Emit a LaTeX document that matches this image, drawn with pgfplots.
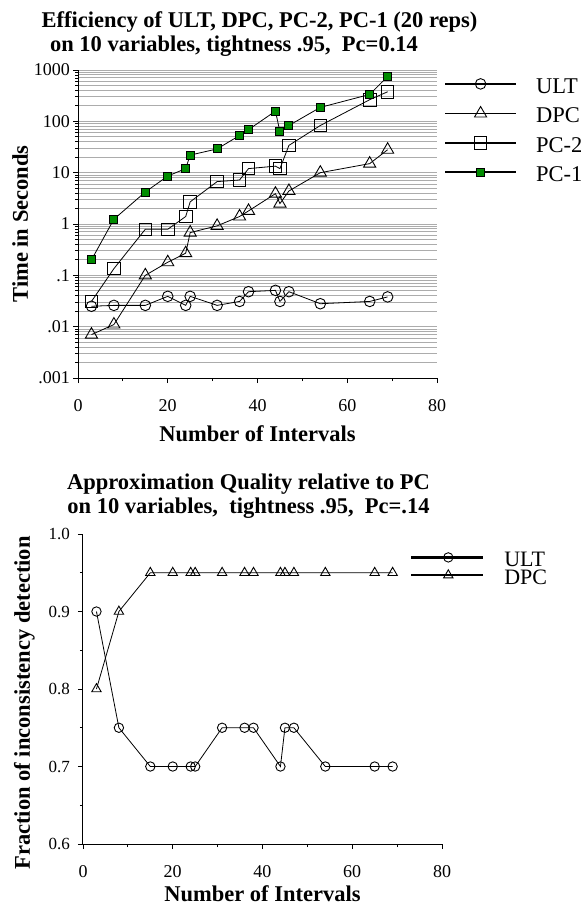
\documentclass[border=0pt]{standalone}
\usepackage{fontspec}
\setmainfont{Liberation Serif}
\usepackage{pgfplots}
\pgfplotsset{compat=1.18}
\definecolor{pcGreen}{HTML}{008C00}

\pgfplotsset{
  oldchart/.style={
    scale only axis,
    anchor=south west,
    width=359pt,
    axis lines*=left,
    axis line style={line width=1pt, -},
    tick align=outside,
    major tick length=5pt,
    minor tick length=3pt,
    tick style={black, line width=0.9pt},
    xmin=0, xmax=80,
    xtick={0,20,40,60,80},
    minor x tick num=1,
    /pgf/number format/assume math mode=true,
    tick label style={font=\fontsize{18}{18}\selectfont},
    xticklabel style={anchor=base, yshift=-28pt},
    yticklabel style={anchor=east, inner sep=0pt, xshift=-3pt},
    label style={font=\fontsize{22.5}{23}\selectfont\bfseries},
    title style={font=\fontsize{22.5}{23.5}\selectfont\bfseries, align=center},
    legend cell align=left,
    clip=false,
  },
  ser/.style={black, line width=0.8pt},
}

\begin{document}
\begin{tikzpicture}
\path[use as bounding box] (0pt,0pt) rectangle (582pt,-905pt);

% ---- efficiency chart
\begin{axis}[oldchart,
  at={(78pt,-378pt)},
  height=308pt,
  ymode=log,
  ymin=0.001, ymax=1000,
  ytick={0.001,0.01,0.1,1,10,100,1000},
  yticklabels={.001,.01,.1,1,10,100,1000},
  ymajorgrids, yminorgrids,
  major grid style={gray!65, line width=1pt},
  minor grid style={gray!65, line width=1pt},
  xlabel={Number of Intervals},
  xlabel style={at={(axis description cs:0.5,0)}, anchor=base, yshift=-63pt},
  ylabel={Time in Seconds},
  ylabel style={at={(axis description cs:0,0.5)}, anchor=base, yshift=50pt},
  title={Efficiency of ULT, DPC, PC-2, PC-1 (20 reps)\\on 10 variables, tightness .95,\ \ Pc=0.14\hspace*{51pt}},
  title style={at={(axis description cs:0.5,1)}, anchor=base, yshift=13pt, xshift=2pt},
  legend style={at={(axis description cs:1,1)}, anchor=north west, xshift=4pt, yshift=-5pt,
    draw=none, fill=none, font=\fontsize{22.5}{23}\selectfont,
    nodes={inner sep=0pt, text height=16pt, text depth=4pt},
    row sep=9.3pt, /tikz/every even column/.style={column sep=0pt}},
  legend image code/.code={
    \draw[line width=1.8pt, mark=none] (0pt,3.3pt) -- (71pt,3.3pt);
    \draw[mark repeat=2, mark phase=2] plot coordinates {(0pt,3.3pt) (35.5pt,3.3pt) (71pt,3.3pt)};
    \path[draw=none] (71pt,3.3pt) -- (91pt,3.3pt);
  },
]
\addplot[ser, mark=o, mark size=5.3pt, mark options={line width=0.9pt}] coordinates {
  (3,0.025) (8,0.026) (15,0.026) (20,0.039) (24,0.026) (25,0.039) (31,0.026) (36,0.031)
  (38,0.048) (44,0.051) (45,0.031) (47,0.048) (54,0.028) (65,0.031) (69,0.038)};
\addlegendentry{ULT}
\addplot[ser, mark=triangle, mark size=7pt, mark options={line width=0.9pt}] coordinates {
  (3,0.007) (8,0.011) (15,0.10) (20,0.18) (24,0.27) (25,0.68) (31,0.92) (36,1.4)
  (38,1.8) (44,3.9) (45,2.5) (47,4.4) (54,10) (65,15) (69,28)};
\addlegendentry{DPC}
\addplot[ser, mark=square, mark size=6.3pt, mark options={line width=0.9pt}] coordinates {
  (3,0.031) (8,0.135) (15,0.79) (20,0.79) (24,1.4) (25,2.7) (31,6.7) (36,7.2)
  (38,12) (44,13.4) (45,12) (47,34) (54,83) (65,264) (69,377)};
\addlegendentry{PC-2}
\addplot[ser, mark=square*, mark size=4pt, mark options={fill=pcGreen, draw=black, line width=0.9pt}] coordinates {
  (3,0.2) (8,1.24) (15,4.2) (20,8.6) (24,12) (25,22) (31,29) (36,53)
  (38,69) (44,158) (45,63) (47,83) (54,187) (65,334) (69,750)};
\addlegendentry{PC-1}
\end{axis}

% ---- approximation quality chart
\begin{axis}[oldchart,
  at={(83pt,-844pt)},
  height=310pt,
  ymin=0.6, ymax=1.0,
  ytick={0.6,0.7,0.8,0.9,1.0},
  yticklabels={0.6,0.7,0.8,0.9,1.0},
  minor y tick num=1,
  yticklabel style={font=\fontsize{17}{17}\selectfont, xshift=-5pt},
  xlabel={Number of Intervals},
  xlabel style={at={(axis description cs:0.5,0)}, anchor=base, yshift=-57pt},
  ylabel={Fraction of inconsistency detection},
  ylabel style={at={(axis description cs:0,0.5)}, anchor=base, yshift=53pt, xshift=-14pt},
  title={Approximation Quality relative to PC\\on 10 variables,\ \ tightness .95,\ \ Pc=.14},
  title style={at={(axis description cs:0.5,1)}, anchor=base, yshift=15pt, xshift=-14pt},
  legend style={at={(axis description cs:1,1)}, anchor=north west, xshift=-35pt, yshift=-16.5pt,
    draw=none, fill=none, font=\fontsize{22}{22}\selectfont,
    nodes={inner sep=0pt, text height=12pt, text depth=5pt},
    row sep=-1.6pt, /tikz/every even column/.style={column sep=0pt}},
  legend image code/.code={
    \draw[line width=2.2pt, mark=none] (0pt,5.5pt) -- (72pt,5.5pt);
    \draw[mark repeat=2, mark phase=2] plot coordinates {(0pt,5.5pt) (37pt,5.5pt) (72pt,5.5pt)};
    \path[draw=none] (72pt,5.5pt) -- (93pt,5.5pt);
  },
]
\addplot[ser, mark=o, mark size=4.7pt, mark options={line width=0.9pt}] coordinates {
  (3,0.90) (8,0.75) (15,0.70) (20,0.70) (24,0.70) (25,0.70) (31,0.75) (36,0.75)
  (38,0.75) (44,0.70) (45,0.75) (47,0.75) (54,0.70) (65,0.70) (69,0.70)};
\addlegendentry{ULT}
\addplot[ser, mark=triangle, mark size=5.4pt, mark options={line width=0.9pt}] coordinates {
  (3,0.80) (8,0.90) (15,0.95) (20,0.95) (24,0.95) (25,0.95) (31,0.95) (36,0.95)
  (38,0.95) (44,0.95) (45,0.95) (47,0.95) (54,0.95) (65,0.95) (69,0.95)};
\addlegendentry{DPC}
\end{axis}
\end{tikzpicture}
\end{document}
